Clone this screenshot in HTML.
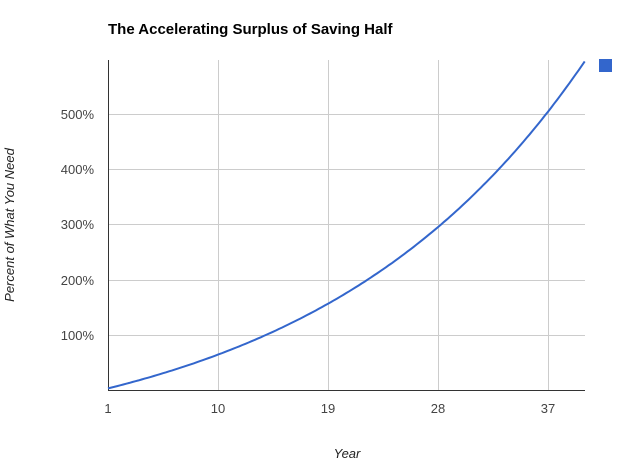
<!DOCTYPE html>
<html><head><meta charset="utf-8"><style>
body{margin:0;background:#fff;}
svg{display:block;font-family:"Liberation Sans",Arial,sans-serif;}
</style></head><body>
<svg id="s" width="626" height="473" viewBox="0 0 626 473">
<text x="108" y="34" font-size="15" font-weight="bold" fill="#000">The Accelerating Surplus of Saving Half</text>
<g stroke="#ccc" stroke-width="1">
<line x1="218.5" y1="60" x2="218.5" y2="390"/>
<line x1="328.5" y1="60" x2="328.5" y2="390"/>
<line x1="438.5" y1="60" x2="438.5" y2="390"/>
<line x1="548.5" y1="60" x2="548.5" y2="390"/>
<line x1="108" y1="114.5" x2="585" y2="114.5"/>
<line x1="108" y1="169.5" x2="585" y2="169.5"/>
<line x1="108" y1="224.5" x2="585" y2="224.5"/>
<line x1="108" y1="280.5" x2="585" y2="280.5"/>
<line x1="108" y1="335.5" x2="585" y2="335.5"/>
</g>
<line x1="108.5" y1="60" x2="108.5" y2="391" stroke="#333"/>
<line x1="108" y1="390.5" x2="585" y2="390.5" stroke="#333"/>
<g font-size="13" fill="#444" text-anchor="end">
<text x="94" y="119">500%</text>
<text x="94" y="174">400%</text>
<text x="94" y="229">300%</text>
<text x="94" y="285">200%</text>
<text x="94" y="340">100%</text>
</g>
<g font-size="13" fill="#444" text-anchor="middle">
<text x="108" y="413">1</text>
<text x="218" y="413">10</text>
<text x="328" y="413">19</text>
<text x="438" y="413">28</text>
<text x="548" y="413">37</text>
</g>
<text x="347" y="458" font-size="13" font-style="italic" fill="#222" text-anchor="middle">Year</text>
<text transform="translate(14,225) rotate(-90)" font-size="13" font-style="italic" fill="#222" text-anchor="middle">Percent of What You Need</text>
<rect x="599" y="59" width="13" height="13" fill="#3366cc"/>
<path id="c" fill="none" stroke="#3366cc" stroke-width="2"/>
</svg>
<script>
var d="";
for(var t=1;t<=40.05;t+=0.25){
var f=116*Math.exp(0.0455*t)-118.5;
var x=108+(t-1)*110/9, y=390-0.55*f;
if(y<59)y=59;
d+=(d?" L":"M")+x.toFixed(1)+","+y.toFixed(1);
}
document.getElementById("c").setAttribute("d",d);
</script>
</body></html>
